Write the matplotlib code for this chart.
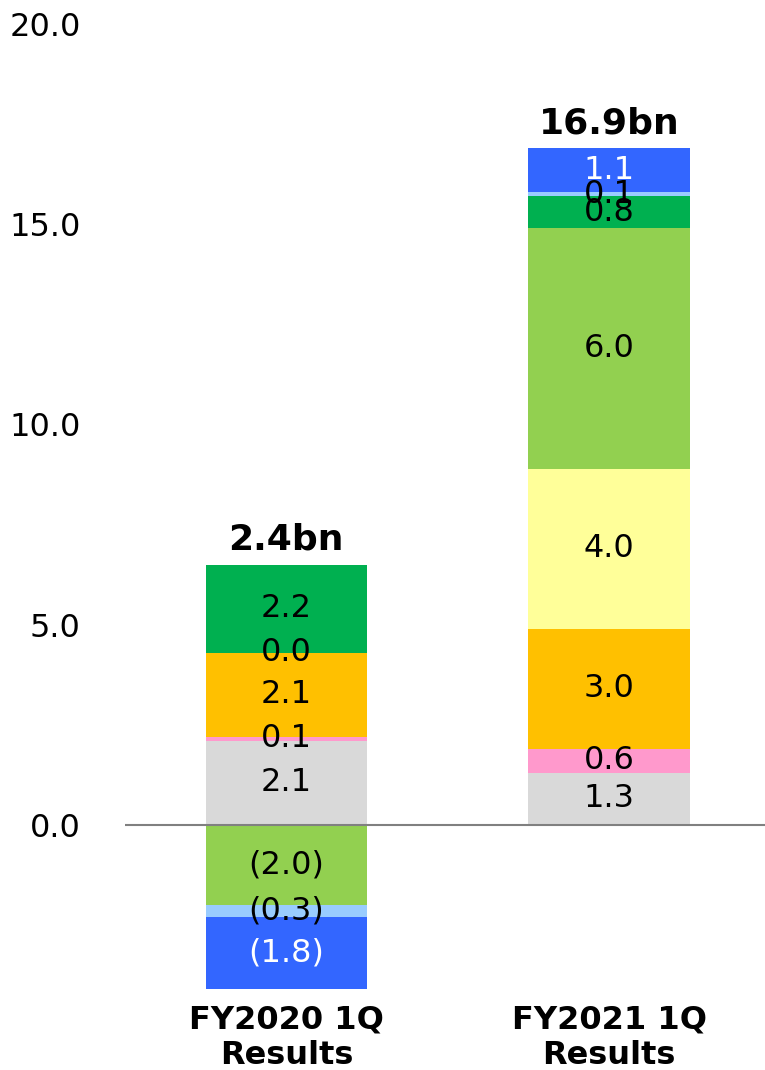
import numpy as np
from matplotlib import pyplot as plt

categories = ["FY2020 1Q\nResults", "FY2021 1Q\nResults"]
totals = ["2.4bn", "16.9bn"]

# stacked series, bottom to top
gray = [2.1, 1.3]
pink = [0.1, 0.6]
orange = [2.1, 3.0]
yellow = [0.0, 4.0]
light_green = [-2.0, 6.0]
dark_green = [2.2, 0.8]
light_blue = [-0.3, 0.1]
blue = [-1.8, 1.1]

series = [gray, pink, orange, yellow, light_green, dark_green, light_blue, blue]
colors = ["#D9D9D9", "#FF99CC", "#FFC000", "#FFFF99", "#92D050", "#00B050", "#99CCFF", "#3366FF"]
text_colors = ["black"] * 7 + ["white"]

y_ticks = [0, 5, 10, 15, 20]

fig = plt.figure(figsize=(7.65, 10.7), dpi=100)
ax = fig.add_axes([125 / 765, 1 - 1000 / 1070, 1 - 125 / 765, (1000 - 24) / 1070])

x = np.arange(len(categories))
pos_bottom = np.zeros(len(categories))
neg_bottom = np.zeros(len(categories))
for vals, col, tcol in zip(series, colors, text_colors):
    vals = np.array(vals)
    bottom = np.where(vals >= 0, pos_bottom, neg_bottom)
    ax.bar(x, vals, width=0.5, bottom=bottom, color=col, zorder=2)
    for xi, v, b in zip(x, vals, bottom):
        label = f"{v:.1f}" if v >= 0 else f"({-v:.1f})"
        ax.text(xi, b + v / 2, label, ha="center", va="center",
                fontsize=23, color=tcol, zorder=3)
    pos_bottom = pos_bottom + np.where(vals >= 0, vals, 0)
    neg_bottom = neg_bottom + np.where(vals < 0, vals, 0)

for xi, top, t in zip(x, pos_bottom, totals):
    ax.text(xi, top + 0.2, t, ha="center", va="bottom",
            fontsize=26, fontweight="bold")

ax.axhline(0, color="#808080", linewidth=1.5, zorder=4)

ax.set_xlim(-0.5, 1.483)
ax.set_ylim((1000 - 825) / -40.05, 20)
ax.set_yticks(y_ticks)
ax.set_yticklabels([f"{t:.1f}" for t in y_ticks], fontsize=23)
ax.set_xticks(x)
ax.set_xticklabels(categories, fontsize=23, fontweight="bold", linespacing=1.2)
ax.tick_params(axis="x", length=0, pad=3)
ax.tick_params(axis="y", length=0, pad=32)
for s in ax.spines.values():
    s.set_visible(False)

fig.savefig("out.png", dpi=100)
